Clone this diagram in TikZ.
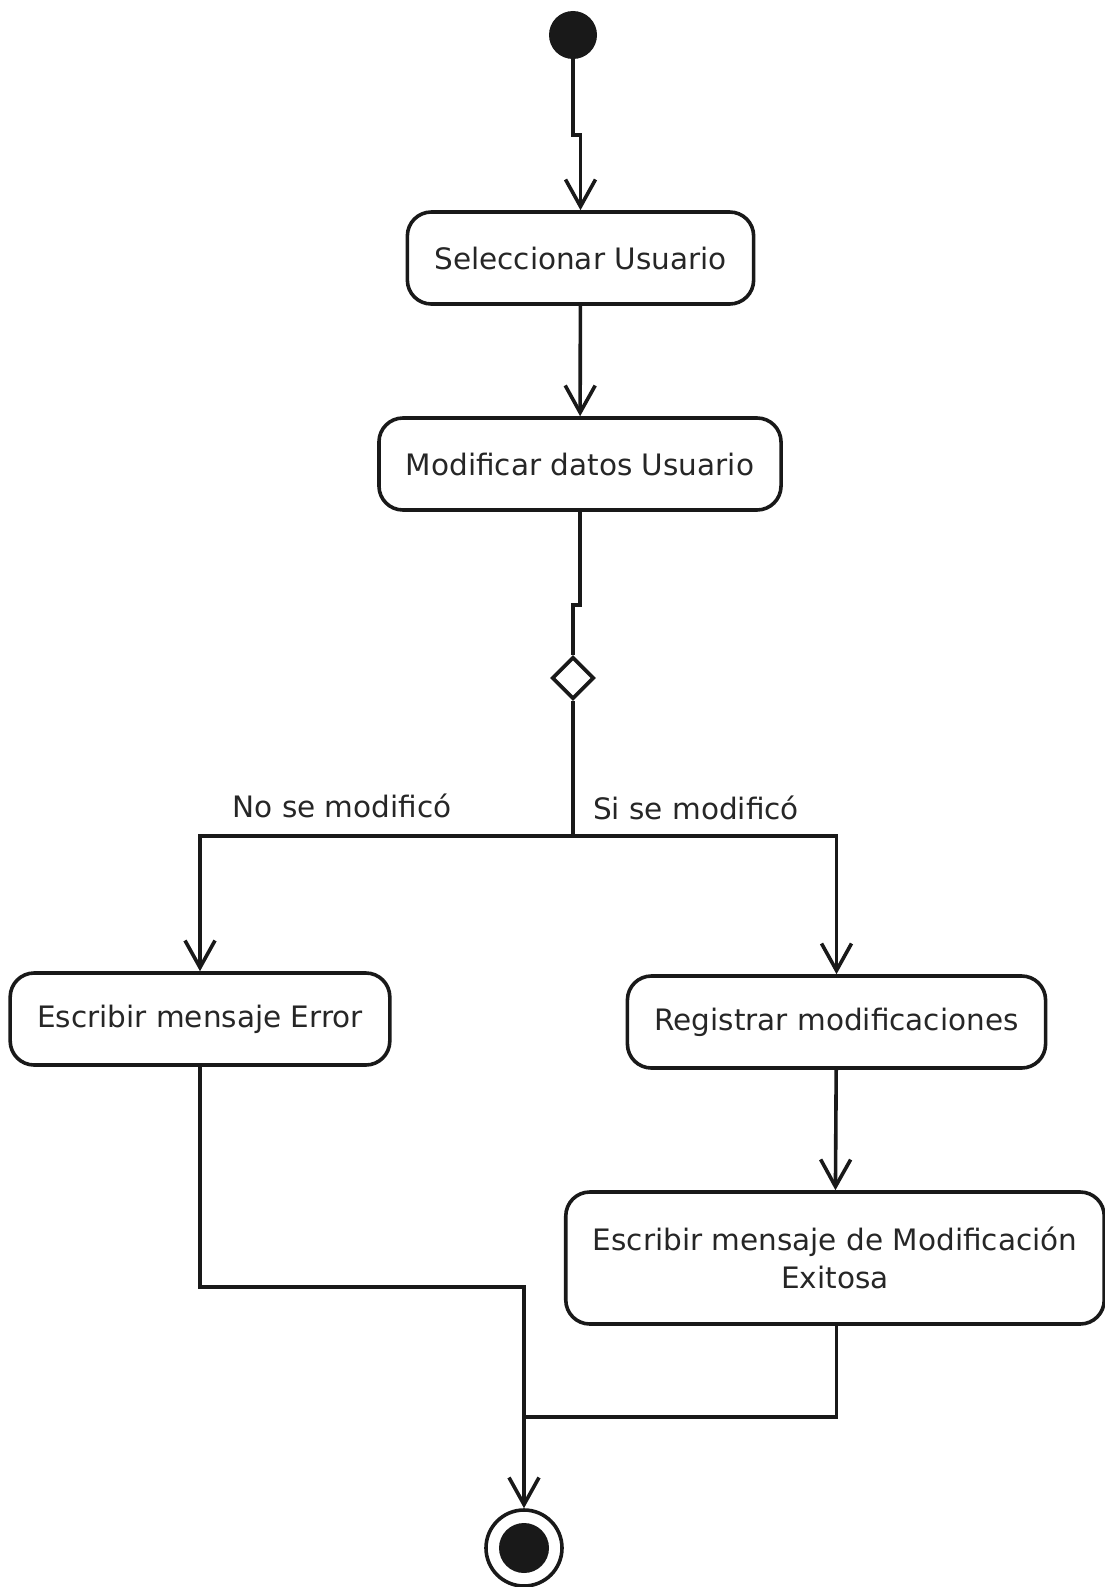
\documentclass[tikz,border=0pt]{standalone}
\usepackage{fontspec}
\setmainfont{DejaVu Sans}
\usetikzlibrary{arrows.meta,shapes.geometric}

\begin{document}
\begin{tikzpicture}[
        x=1pt, y=-1pt,
        % Aktionen als abgerundete Kästen
        action/.style={rectangle, rounded corners=24pt, draw=black!90, line width=3.6pt,
            minimum height=92pt, inner xsep=27pt, text=black!85,
            font=\fontsize{29.5}{38}\selectfont},
        guard/.style={text=black!85, font=\fontsize{29.5}{38}\selectfont},
        initial/.style={circle, fill=black!90, minimum size=48pt, inner sep=0pt},
        final/.style={circle, draw=black!90, line width=3.6pt, minimum size=76pt, inner sep=0pt,
            path picture={\fill[black!90] (path picture bounding box.center) circle (25pt);}},
        decision/.style={diamond, draw=black!90, line width=3.6pt, fill=white,
            minimum width=42pt, minimum height=42pt, inner sep=0pt},
        line/.style={draw=black!90, line width=3.6pt},
        flow/.style={line, -{Straight Barb[length=27pt, width=30pt, line width=3.6pt]}}
    ]
    \useasboundingbox (0,0) rectangle (1104,1587);

    \node[initial] (start) at (573,35) {};
    \node[action] (sel) at (580.5,258) {Seleccionar Usuario};
    \node[action] (mod) at (580,464) {Modificar datos Usuario};
    \node[decision] (dec) at (573,678) {};
    \node[action] (err) at (200,1019) {Escribir mensaje Error};
    \node[action] (reg) at (836.5,1022) {Registrar modificaciones};
    \node[action, minimum height=132pt, align=center] (ok) at (835,1258)
        {Escribir mensaje de Modificación\\Exitosa};
    \node[final] (fin) at (524,1548) {};

    % Verzweigung und Zusammenführung
    \coordinate (split) at (573,836);
    \coordinate (join) at (524,1417);

    \draw[flow] (start) -- (573,135) -- (580.5,135) -- (sel);
    \draw[flow] (sel) -- (mod);
    \draw[line] (mod) -- (580,605) -- (573,605) -- (dec);
    \draw[line] (dec) -- (split);
    \draw[flow] (split) -| (err);
    \draw[flow] (split) -| (reg);
    \draw[flow] (reg) -- (ok);
    \draw[line] (err) |- (524,1287) -- (join);
    \draw[line] (ok.south -| reg) |- (join);
    \draw[flow] (join) -- (fin);

    \node[guard] (no) at (342,806) {No se modificó};
    \node[guard] (si) at (696,808) {Si se modificó};
\end{tikzpicture}
\end{document}
